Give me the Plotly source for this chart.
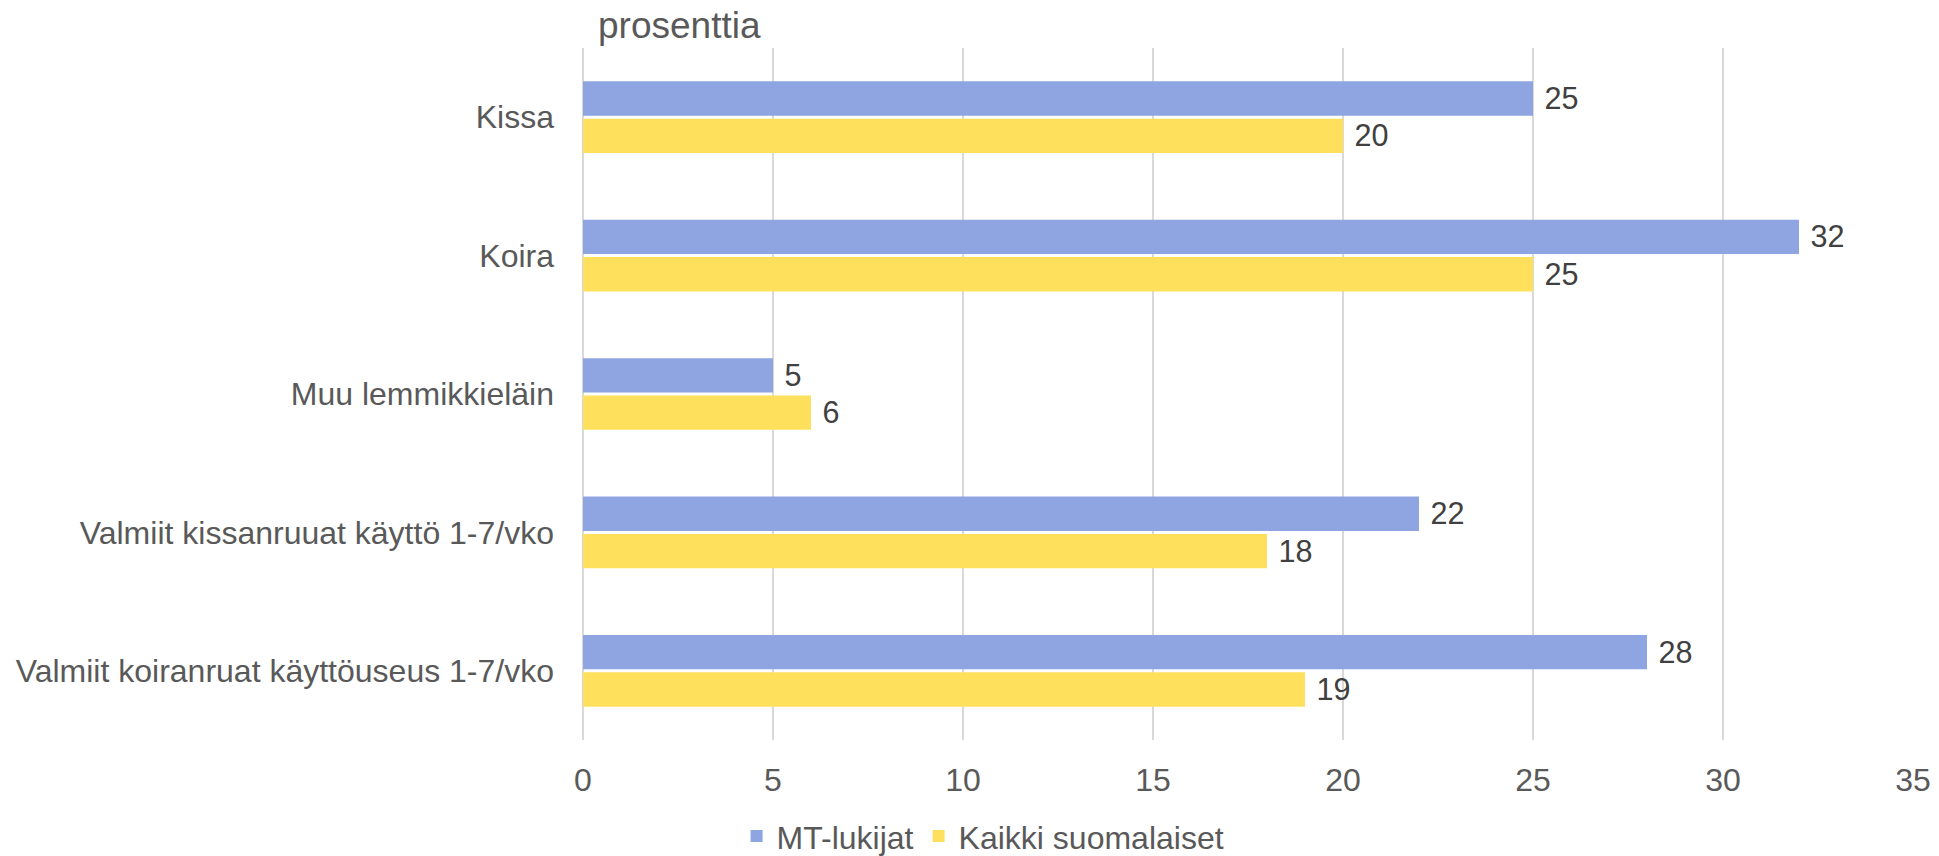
import plotly.graph_objects as go

categories = ["Kissa", "Koira", "Muu lemmikkieläin",
              "Valmiit kissanruuat käyttö 1-7/vko",
              "Valmiit koiranruat käyttöuseus 1-7/vko"]
mt_lukijat = [25, 32, 5, 22, 28]
kaikki_suomalaiset = [20, 25, 6, 18, 19]
series_names = ["MT-lukijat", "Kaikki suomalaiset"]
x_ticks = [0, 5, 10, 15, 20, 25, 30, 35]

FONT = "Liberation Sans, Arial, sans-serif"
fig = go.Figure()
for name, vals, col in [(series_names[0], mt_lukijat, "#8EA5E1"),
                        (series_names[1], kaikki_suomalaiset, "#FFE05C")]:
    fig.add_trace(go.Bar(
        y=categories, x=vals, name=name, orientation="h",
        marker=dict(color=col, line=dict(width=0)),
        text=vals, texttemplate="\u00a0%{x}", textposition="outside",
        textfont=dict(size=32, color="#404040", family=FONT),
        cliponaxis=False,
    ))

fig.update_layout(
    width=1939, height=856,
    margin=dict(l=583, r=26, t=48, b=116, autoexpand=False),
    plot_bgcolor="white", paper_bgcolor="white",
    barmode="group", bargap=0.46, bargroupgap=0.08,
    font=dict(family=FONT, size=32, color="#595959"),
    xaxis=dict(range=[0, 35], tickvals=x_ticks, showgrid=True,
               gridcolor="#D9D9D9", gridwidth=1.5, zeroline=True,
               zerolinecolor="#D9D9D9", zerolinewidth=1.5, automargin=False,
               showline=False, tickfont=dict(size=32, color="#595959"),
               ticks="outside", ticklen=0, ticklabelstandoff=12),
    yaxis=dict(autorange="reversed", showgrid=False, showline=False,
               automargin=False,
               tickfont=dict(size=32, color="#595959"),
               ticklabelstandoff=28),
    legend=dict(orientation="h", xref="container", yref="container",
                x=0.507, xanchor="center", y=0.023, yanchor="middle",
                font=dict(size=32, color="#595959"), traceorder="normal",
                itemwidth=30),
    showlegend=True,
    annotations=[dict(text="prosenttia", xref="paper", yref="paper",
                      x=0.01, y=1.033, xanchor="left", yanchor="middle",
                      showarrow=False, font=dict(size=37, color="#595959"))],
)
fig.write_html("out.html", config={"displayModeBar": False},
               post_script="document.body.style.margin='0';document.body.style.overflow='hidden';")
